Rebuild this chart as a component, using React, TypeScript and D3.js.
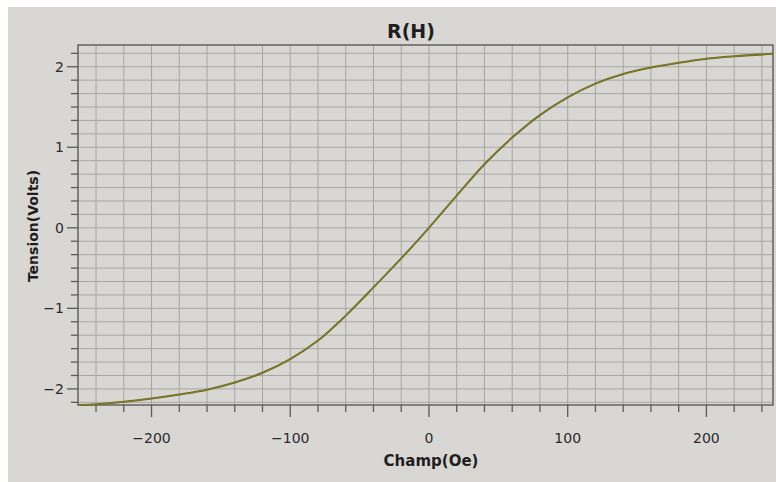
import React from "react";
import * as d3 from "d3";

const fieldOe = [-252, -240, -220, -200, -180, -160, -140, -120, -100, -80, -60, -40, -20, 0, 20, 40, 60, 80, 100, 120, 140, 160, 180, 200, 220, 248];
const tensionV = [-2.2, -2.19, -2.16, -2.12, -2.07, -2.01, -1.92, -1.8, -1.63, -1.4, -1.09, -0.74, -0.38, 0.0, 0.4, 0.79, 1.12, 1.4, 1.62, 1.79, 1.91, 1.99, 2.05, 2.1, 2.13, 2.16];

const xMajorTicks = [-200, -100, 0, 100, 200];
const yMajorTicks = [-2, -1, 0, 1, 2];

const title = "R(H)";
const xTitle = "Champ(Oe)";
const yTitle = "Tension(Volts)";

const W = 776;
const H = 482;
const L = 78, R = 773, T = 45, B = 405;

export default function App() {
  const x = d3.scaleLinear().domain([-253, 248]).range([L, R]);
  const y = d3.scaleLinear().domain([-2.2, 2.27]).range([B, T]);

  const xMinor = d3.range(-240, 248, 20);
  const yMinor = d3.range(-13, 14).map((k) => k / 6).filter((v) => v >= -2.2 && v <= 2.27);

  const line = d3
    .line<number>()
    .x((_, i) => x(fieldOe[i]))
    .y((v) => y(v))
    .curve(d3.curveCatmullRom.alpha(0.5));

  const gridColor = "#a3a09d";
  const axisColor = "#5c5a58";
  const font = "'DejaVu Sans', Verdana, sans-serif";

  return (
    <svg
      width={W}
      height={H}
      style={{ position: "absolute", left: 0, top: 0, display: "block" }}
    >
      <rect x={0} y={0} width={W} height={H} fill="#ffffff" />
      <rect x={8} y={7} width={W - 8} height={H - 7} fill="#d9d7d4" />
      {xMinor.map((v) => (
        <line key={"gx" + v} x1={x(v)} x2={x(v)} y1={T} y2={B} stroke={gridColor} strokeWidth={0.9} />
      ))}
      {yMinor.map((v) => (
        <line key={"gy" + v} x1={L} x2={R} y1={y(v)} y2={y(v)} stroke={gridColor} strokeWidth={0.9} />
      ))}
      <rect x={L} y={T} width={R - L} height={B - T} fill="none" stroke={axisColor} strokeWidth={1.4} />
      {yMinor.map((v) => {
        const major = yMajorTicks.some((m) => Math.abs(m - v) < 1e-6);
        return (
          <line key={"ty" + v} x1={L - (major ? 11 : 7)} x2={L} y1={y(v)} y2={y(v)} stroke={axisColor} strokeWidth={1.3} />
        );
      })}
      {yMajorTicks.map((v) => (
        <text key={"ly" + v} x={L - 14} y={y(v)} dy="0.35em" textAnchor="end" fontFamily={font} fontSize={14} fill="#2a2a2a">
          {v < 0 ? "\u2212" + Math.abs(v) : String(v)}
        </text>
      ))}
      {xMinor.map((v) => {
        const major = xMajorTicks.includes(v);
        return (
          <line key={"tx" + v} x1={x(v)} x2={x(v)} y1={B} y2={B + (major ? 12 : 7)} stroke={axisColor} strokeWidth={1.3} />
        );
      })}
      {xMajorTicks.map((v) => (
        <text key={"lx" + v} x={x(v)} y={443} textAnchor="middle" fontFamily={font} fontSize={14} fill="#2a2a2a">
          {v < 0 ? "\u2212" + Math.abs(v) : String(v)}
        </text>
      ))}
      <path d={line(tensionV) || ""} fill="none" stroke="#6e6b22" strokeWidth={2} />
      <path d={line(tensionV) || ""} fill="none" stroke="#8a8a2a" strokeWidth={0.8} opacity={0.7} />
      <text x={411} y={38} textAnchor="middle" fontFamily={font} fontWeight="bold" fontSize={19} fill="#1e1e1e">
        {title}
      </text>
      <text x={431} y={466} textAnchor="middle" fontFamily={font} fontWeight="bold" fontSize={15} fill="#1e1e1e">
        {xTitle}
      </text>
      <text
        transform={`translate(38, ${226}) rotate(-90)`}
        textAnchor="middle"
        fontFamily={font}
        fontWeight="bold"
        fontSize={14}
        fill="#1e1e1e"
      >
        {yTitle}
      </text>
    </svg>
  );
}
